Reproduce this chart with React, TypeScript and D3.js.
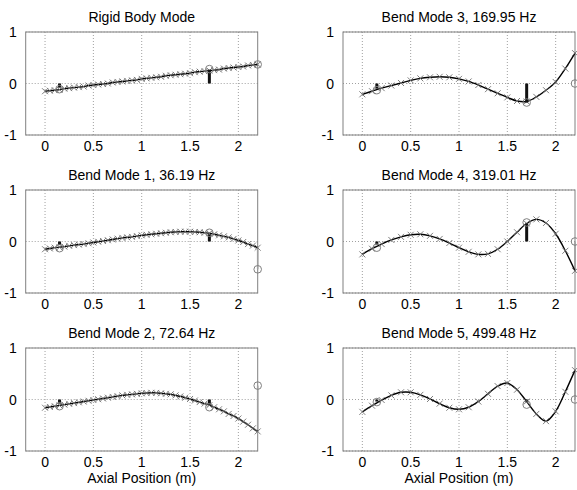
import React from "react";
import * as d3 from "d3";

// ---- data ----
const xTicks = [0, 0.5, 1, 1.5, 2];
const yTicks = [-1, 0, 1];

const xDense = [0, 0.05, 0.1, 0.15, 0.2, 0.25, 0.3, 0.35, 0.4, 0.45, 0.5, 0.55, 0.6, 0.65, 0.7, 0.75, 0.8, 0.85, 0.9, 0.95, 1, 1.05, 1.1, 1.15, 1.2, 1.25, 1.3, 1.35, 1.4, 1.45, 1.5, 1.55, 1.6, 1.65, 1.7, 1.75, 1.8, 1.85, 1.9, 1.95, 2, 2.05, 2.1, 2.15, 2.2];
const xSparse = [0, 0.1, 0.2, 0.3, 0.4, 0.5, 0.6, 0.7, 0.8, 0.9, 1, 1.1, 1.2, 1.3, 1.4, 1.5, 1.6, 1.7, 1.8, 1.9, 2, 2.1, 2.2];

const rigidY = [-0.15, -0.14, -0.13, -0.12, -0.1, -0.09, -0.08, -0.07, -0.06, -0.04, -0.03, -0.02, -0.01, 0.0, 0.02, 0.03, 0.04, 0.05, 0.06, 0.07, 0.09, 0.1, 0.11, 0.12, 0.13, 0.15, 0.16, 0.17, 0.18, 0.19, 0.2, 0.22, 0.23, 0.24, 0.25, 0.26, 0.27, 0.29, 0.3, 0.31, 0.32, 0.33, 0.35, 0.36, 0.37];
const bend1Y = [-0.15, -0.135, -0.12, -0.11, -0.1, -0.085, -0.07, -0.06, -0.05, -0.035, -0.02, -0.005, 0.01, 0.025, 0.04, 0.055, 0.07, 0.08, 0.09, 0.105, 0.12, 0.13, 0.14, 0.15, 0.16, 0.17, 0.18, 0.185, 0.19, 0.19, 0.19, 0.185, 0.18, 0.17, 0.16, 0.14, 0.12, 0.1, 0.08, 0.05, 0.02, -0.01, -0.05, -0.08, -0.12];
const bend2Y = [-0.16, -0.145, -0.13, -0.115, -0.1, -0.085, -0.07, -0.055, -0.04, -0.025, -0.01, 0.005, 0.02, 0.035, 0.05, 0.065, 0.08, 0.09, 0.1, 0.11, 0.12, 0.125, 0.13, 0.128, 0.12, 0.11, 0.1, 0.08, 0.06, 0.035, 0.01, -0.02, -0.05, -0.08, -0.11, -0.15, -0.19, -0.23, -0.28, -0.32, -0.37, -0.43, -0.49, -0.56, -0.62];
const bend3Y = [-0.21, -0.15, -0.09, -0.04, 0.01, 0.06, 0.1, 0.12, 0.13, 0.12, 0.09, 0.04, -0.03, -0.11, -0.19, -0.27, -0.34, -0.35, -0.26, -0.13, 0.03, 0.29, 0.59];
const bend4Y = [-0.25, -0.14, -0.05, 0.03, 0.09, 0.13, 0.14, 0.11, 0.05, -0.03, -0.12, -0.2, -0.25, -0.24, -0.15, 0.0, 0.18, 0.35, 0.43, 0.36, 0.15, -0.18, -0.57];
const bend5Y = [-0.24, -0.12, -0.01, 0.08, 0.14, 0.14, 0.09, 0.01, -0.08, -0.16, -0.19, -0.15, -0.04, 0.11, 0.26, 0.32, 0.19, -0.04, -0.28, -0.42, -0.23, 0.15, 0.57];

const sensorX = [0.15, 1.7, 2.2];
const rigidSensor = [-0.11, 0.28, 0.37];
const bend1Sensor = [-0.13, 0.17, -0.54];
const bend2Sensor = [-0.13, -0.15, 0.27];
const bend3Sensor = [-0.13, -0.37, 0.0];
const bend4Sensor = [-0.12, 0.37, 0.0];
const bend5Sensor = [-0.05, -0.1, 0.0];

const stemX = [0.15, 1.7];
const rigidStem = [-0.08, 0.27];
const bend1Stem = [-0.07, 0.14];
const bend2Stem = [-0.08, -0.1];
const bend3Stem = [-0.1, -0.37];
const bend4Stem = [-0.06, 0.35];
const bend5Stem = [-0.04, -0.05];

const titles = [
  "Rigid Body Mode",
  "Bend Mode 3, 169.95 Hz",
  "Bend Mode 1, 36.19 Hz",
  "Bend Mode 4, 319.01 Hz",
  "Bend Mode 2, 72.64 Hz",
  "Bend Mode 5, 499.48 Hz",
];
const xLabel = "Axial Position (m)";

const panels = [
  { title: titles[0], xs: xDense, ys: rigidY, sensor: rigidSensor, stem: rigidStem, row: 0, col: 0 },
  { title: titles[1], xs: xSparse, ys: bend3Y, sensor: bend3Sensor, stem: bend3Stem, row: 0, col: 1 },
  { title: titles[2], xs: xDense, ys: bend1Y, sensor: bend1Sensor, stem: bend1Stem, row: 1, col: 0 },
  { title: titles[3], xs: xSparse, ys: bend4Y, sensor: bend4Sensor, stem: bend4Stem, row: 1, col: 1 },
  { title: titles[4], xs: xDense, ys: bend2Y, sensor: bend2Sensor, stem: bend2Stem, row: 2, col: 0 },
  { title: titles[5], xs: xSparse, ys: bend5Y, sensor: bend5Sensor, stem: bend5Stem, row: 2, col: 1 },
];

// ---- layout ----
const W = 577;
const H = 490;
const colLeft = [25.7, 343];
const rowTop = [32, 190, 348];
const PW = 232;
const PH = 103;
const FONT = "'Liberation Sans', Arial, Helvetica, sans-serif";
const GRAY = "#808080";

function Panel({ p }: { p: (typeof panels)[number] }) {
  const x0 = colLeft[p.col];
  const y0 = rowTop[p.row];
  const x = d3.scaleLinear().domain([-0.2, 2.2]).range([x0, x0 + PW]);
  const y = d3.scaleLinear().domain([-1, 1]).range([y0 + PH, y0]);
  const pts = p.xs.map((v, i) => [v, p.ys[i]] as [number, number]);
  const line = d3
    .line<[number, number]>()
    .x((d) => x(d[0]))
    .y((d) => y(d[1]))
    .curve(d3.curveCatmullRom.alpha(0.5));
  const lastY = p.ys[p.ys.length - 1];
  const lastX = p.xs[p.xs.length - 1];
  const m = 3;
  return (
    <g>
      {xTicks.map((t) => (
        <line key={"gx" + t} x1={x(t)} x2={x(t)} y1={y0} y2={y0 + PH} stroke="#a0a0a0" strokeWidth={1} strokeDasharray="1,2" />
      ))}
      {yTicks.map((t) => (
        <line key={"gy" + t} x1={x0} x2={x0 + PW} y1={y(t)} y2={y(t)} stroke="#a0a0a0" strokeWidth={1} strokeDasharray="1,2" />
      ))}
      <rect x={x0} y={y0} width={PW} height={PH} fill="none" stroke={GRAY} strokeWidth={1} />
      {xTicks.map((t) => (
        <text key={"tx" + t} x={x(t)} y={y0 + PH + 16} textAnchor="middle" fontSize={14} fontFamily={FONT} fill="#000">
          {String(t)}
        </text>
      ))}
      {yTicks.map((t) => (
        <text key={"ty" + t} x={x0 - 9} y={y(t)} dy="0.36em" textAnchor="end" fontSize={14} fontFamily={FONT} fill="#000">
          {String(t)}
        </text>
      ))}
      <text x={x0 + PW / 2} y={y0 - 10} textAnchor="middle" fontSize={14} fontFamily={FONT} fill="#000">
        {p.title}
      </text>
      {p.row === 2 && (
        <text x={x0 + PW / 2} y={y0 + PH + 32} textAnchor="middle" fontSize={14} fontFamily={FONT} fill="#000">
          {xLabel}
        </text>
      )}
      <line x1={x(lastX)} x2={x(lastX)} y1={y(lastY)} y2={y(p.sensor[2])} stroke="#a0a0a0" strokeWidth={1.6} />
      <path d={line(pts) || ""} fill="none" stroke="#000" strokeWidth={1.4} />
      {pts.map((d, i) => (
        <path
          key={"m" + i}
          d={`M${x(d[0]) - m},${y(d[1]) - m}L${x(d[0]) + m},${y(d[1]) + m}M${x(d[0]) - m},${y(d[1]) + m}L${x(d[0]) + m},${y(d[1]) - m}`}
          stroke="#707070"
          strokeWidth={0.9}
          fill="none"
        />
      ))}
      {stemX.map((sx, i) => (
        <line key={"s" + i} x1={x(sx)} x2={x(sx)} y1={y(0)} y2={y(p.stem[i])} stroke="#111" strokeWidth={3} />
      ))}
      {sensorX.map((sx, i) => (
        <circle key={"c" + i} cx={x(sx)} cy={y(p.sensor[i])} r={3.8} fill="none" stroke={GRAY} strokeWidth={1} />
      ))}
    </g>
  );
}

export default function App() {
  return (
    <svg width={W} height={H} style={{ position: "absolute", left: 0, top: 0, background: "#fff" }}>
      <rect x={0} y={0} width={W} height={H} fill="#fff" />
      {panels.map((p, i) => (
        <Panel key={i} p={p} />
      ))}
    </svg>
  );
}
